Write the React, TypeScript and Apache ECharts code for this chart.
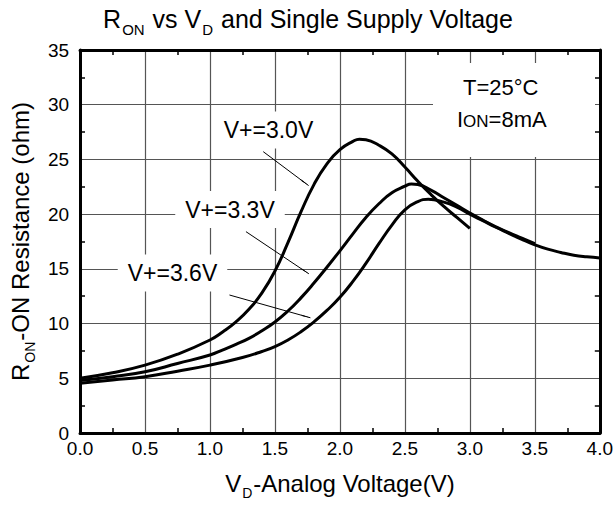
import React, { useEffect, useRef } from "react";
import * as echarts from "echarts";

const FONT = '"Liberation Sans", Arial, Helvetica, sans-serif';

// V+ = 3.0 V
const vd30 = [0, 0.25, 0.5, 0.75, 1.0, 1.1, 1.2, 1.3, 1.4, 1.5, 1.6, 1.7, 1.8, 1.9, 2.0, 2.1, 2.15, 2.2, 2.3, 2.4, 2.5, 2.6, 2.7, 2.8, 2.9, 3.0];
const r30 = [5.0, 5.5, 6.2, 7.2, 8.5, 9.25, 10.15, 11.3, 12.8, 14.8, 17.4, 20.2, 22.7, 24.6, 25.9, 26.65, 26.85, 26.8, 26.3, 25.5, 24.3, 23.0, 21.8, 20.7, 19.7, 18.7];

// V+ = 3.3 V
const vd33 = [0, 0.25, 0.5, 0.75, 1.0, 1.1, 1.2, 1.3, 1.4, 1.5, 1.6, 1.7, 1.8, 1.9, 2.0, 2.1, 2.2, 2.3, 2.4, 2.5, 2.55, 2.6, 2.7, 2.8, 2.9, 3.0, 3.1, 3.2, 3.3, 3.4, 3.5];
const r33 = [4.8, 5.15, 5.6, 6.35, 7.13, 7.6, 8.1, 8.65, 9.35, 10.15, 11.15, 12.35, 13.7, 15.15, 16.65, 18.2, 19.7, 20.95, 21.95, 22.55, 22.75, 22.7, 22.2, 21.5, 20.8, 20.1, 19.45, 18.85, 18.3, 17.8, 17.3];

// V+ = 3.6 V
const vd36 = [0, 0.25, 0.5, 0.75, 1.0, 1.25, 1.4, 1.5, 1.6, 1.7, 1.8, 1.9, 2.0, 2.1, 2.2, 2.3, 2.4, 2.5, 2.6, 2.68, 2.8, 2.9, 3.0, 3.1, 3.2, 3.3, 3.4, 3.5, 3.6, 3.7, 3.8, 3.9, 4.0];
const r36 = [4.55, 4.85, 5.15, 5.65, 6.2, 6.9, 7.45, 7.9, 8.5, 9.25, 10.15, 11.2, 12.4, 13.85, 15.5, 17.3, 19.0, 20.4, 21.15, 21.36, 21.1, 20.65, 20.0, 19.4, 18.8, 18.25, 17.7, 17.2, 16.8, 16.5, 16.25, 16.1, 16.0];

// annotation arrows: [start, end] in data units
const arrow30 = [[1.41, 25.71], [1.759, 22.61]];
const arrow33 = [[1.277, 18.4], [1.761, 14.55]];
const arrow36 = [[1.15, 12.61], [1.773, 10.53]];

const labels = ["V+=3.0V", "V+=3.3V", "V+=3.6V"];

const toPairs = (xs: number[], ys: number[]) => xs.map((x, i) => [x, ys[i]]);

const GRID = { left: 76, right: 16, top: 50, bottom: 74 };

const subRich = {
  a: { fontSize: 24, fontFamily: FONT, color: "#000", lineHeight: 28, verticalAlign: "top" },
  s: { fontSize: 14, fontFamily: FONT, color: "#000", lineHeight: 16, verticalAlign: "top", padding: [15, 1, 0, 1] },
};

const axisCommon = {
  axisLine: { show: true, onZero: false, lineStyle: { color: "#000", width: 3 } },
  axisTick: { show: false, inside: true },
  minorTick: { show: true, splitNumber: 2, length: 5, lineStyle: { color: "#000", width: 1.5 } },
};

export default function App() {
  const ref = useRef<HTMLDivElement>(null);
  useEffect(() => {
    const chart = echarts.init(ref.current!, undefined, { renderer: "svg" });
    const lineSeries = (name: string, data: number[][], arrow: number[][]) => ({
      name,
      type: "line",
      data,
      showSymbol: false,
      smooth: 0.5,
      lineStyle: { color: "#000", width: 3 },
      z: 3,
      markLine: {
        silent: true,
        symbol: ["none", "arrow"],
        symbolSize: [1, 10],
        label: { show: false },
        lineStyle: { color: "#000", width: 1, type: "solid" },
        data: [[{ coord: arrow[0] }, { coord: arrow[1] }]],
      },
    });
    const labelText = (text: string, x: number, y: number) => ({
      type: "text",
      z: 10,
      style: {
        text,
        x,
        y,
        align: "center",
        verticalAlign: "middle",
        font: `23px ${FONT}`,
        fill: "#000",
        backgroundColor: "#fff",
        padding: [7, 10],
      },
    });
    chart.setOption({
      animation: false,
      backgroundColor: "#fff",
      grid: GRID,
      xAxis: [
        {
          ...axisCommon,
          type: "value",
          min: 0,
          max: 4,
          interval: 0.5,
          position: "bottom",
          splitLine: { show: true, lineStyle: { color: "#555", width: 1.2 } },
          axisLabel: {
            formatter: (v: number) => v.toFixed(1),
            fontSize: 19,
            fontFamily: FONT,
            color: "#000",
            margin: 6,
          },
          name: "{a|V}{s|D}{a|-Analog Voltage(V)}",
          nameLocation: "middle",
          nameGap: 38,
          nameTextStyle: { rich: subRich },
        },
        {
          ...axisCommon,
          type: "value",
          min: 0,
          max: 4,
          interval: 0.5,
          position: "top",
          splitLine: { show: false },
          axisLabel: { show: false },
        },
      ],
      yAxis: [
        {
          ...axisCommon,
          type: "value",
          min: 0,
          max: 35,
          interval: 5,
          position: "left",
          splitLine: { show: true, lineStyle: { color: "#555", width: 1.2 } },
          axisLabel: { fontSize: 19, fontFamily: FONT, color: "#000", margin: 11 },
          name: "{a|R}{s|ON}{a|-ON Resistance (ohm)}",
          nameLocation: "middle",
          nameGap: 44,
          nameTextStyle: { rich: subRich },
        },
        {
          ...axisCommon,
          type: "value",
          min: 0,
          max: 35,
          interval: 5,
          position: "right",
          splitLine: { show: false },
          axisLabel: { show: false },
        },
      ],
      series: [
        lineSeries(labels[0], toPairs(vd30, r30), arrow30),
        lineSeries(labels[1], toPairs(vd33, r33), arrow33),
        lineSeries(labels[2], toPairs(vd36, r36), arrow36),
      ],
      graphic: [
        {
          type: "text",
          z: 10,
          style: {
            text: "{a|R}{s|ON}{a| vs V}{s|D}{a| and Single Supply Voltage}",
            x: 308,
            y: 21,
            align: "center",
            verticalAlign: "middle",
            rich: {
              a: { fontSize: 25, fontFamily: FONT, fill: "#000", lineHeight: 29, verticalAlign: "top" },
              s: { fontSize: 15, fontFamily: FONT, fill: "#000", lineHeight: 17, verticalAlign: "top", padding: [15, 1, 0, 1] },
            },
          },
        },
        labelText(labels[0], 268.5, 130),
        labelText(labels[1], 230, 209.5),
        labelText(labels[2], 172.5, 273),
        {
          type: "rect",
          z: 9,
          shape: { x: 433, y: 63, width: 162, height: 94 },
          style: { fill: "#fff" },
        },
        {
          type: "text",
          z: 10,
          style: {
            text: "T=25°C",
            x: 463,
            y: 87,
            align: "left",
            verticalAlign: "middle",
            font: `22px ${FONT}`,
            fill: "#000",
          },
        },
        {
          type: "text",
          z: 10,
          style: {
            text: "{a|I}{b|ON}{a|=8mA}",
            x: 457,
            y: 118,
            align: "left",
            verticalAlign: "middle",
            rich: {
              a: { fontSize: 22, fontFamily: FONT, fill: "#000", lineHeight: 24, verticalAlign: "bottom" },
              b: { fontSize: 17, fontFamily: FONT, fill: "#000", lineHeight: 19, verticalAlign: "bottom" },
            },
          },
        },
      ],
    });
    return () => chart.dispose();
  }, []);
  return (
    <div
      ref={ref}
      style={{ position: "fixed", left: 0, top: 0, width: 616, height: 507, background: "#fff" }}
    />
  );
}
